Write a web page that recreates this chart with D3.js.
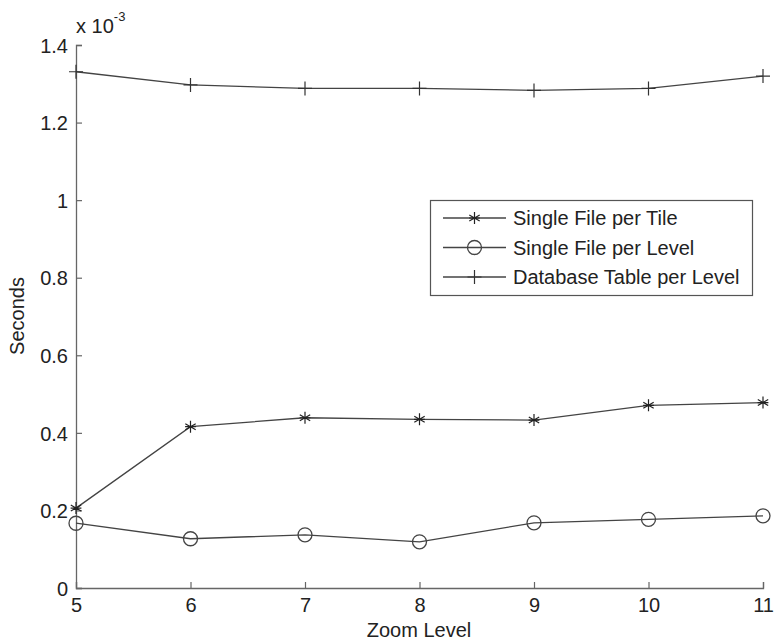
<!DOCTYPE html>
<html>
<head>
<meta charset="utf-8">
<script src="https://cdn.jsdelivr.net/npm/d3@7"></script>
<style>
  html, body { margin: 0; padding: 0; background: #fff; }
  svg text { font-family: "Liberation Sans", Arial, sans-serif; fill: #222; }
</style>
</head>
<body>
<svg id="chart" width="774" height="640"></svg>
<script>
const zoomLevels = [5, 6, 7, 8, 9, 10, 11];
const seriesNames = ["Single File per Tile", "Single File per Level", "Database Table per Level"];
const tilePerFile = [0.206, 0.416, 0.439, 0.435, 0.433, 0.471, 0.478];
const filePerLevel = [0.167, 0.127, 0.137, 0.119, 0.168, 0.177, 0.186];
const dbTablePerLevel = [1.331, 1.297, 1.288, 1.288, 1.283, 1.288, 1.320];
const yTicks = [0, 0.2, 0.4, 0.6, 0.8, 1, 1.2, 1.4];
const xTicks = [5, 6, 7, 8, 9, 10, 11];

const svg = d3.select("#chart");
const lineColor = "#444";
const axisColor = "#666";

const x = d3.scaleLinear().domain([5, 11]).range([76, 763]);
const y = d3.scaleLinear().domain([0, 1.4]).range([588, 45]);

// axes
const gx = svg.append("g").attr("transform", `translate(0,${y(0)})`)
  .call(d3.axisBottom(x).tickValues(xTicks).tickSize(-6).tickPadding(10).tickFormat(d3.format("d")));
const gy = svg.append("g").attr("transform", `translate(${x(5)},0)`)
  .call(d3.axisLeft(y).tickValues(yTicks).tickSize(-6).tickPadding(8).tickFormat(d => d === 0 ? "0" : d === 1 ? "1" : d3.format(".1f")(d)));
[gx, gy].forEach(g => {
  g.select(".domain").attr("stroke", axisColor).attr("stroke-width", 1.3);
  g.selectAll(".tick line").attr("stroke", axisColor).attr("stroke-width", 1.2);
  g.selectAll(".tick text").attr("font-size", 20).attr("fill", "#222")
    .style("font-family", '"Liberation Sans", Arial, sans-serif');
});
gx.selectAll(".tick text").attr("dy", "0.71em");
gy.selectAll(".tick text").attr("dy", "0.36em");

// exponent label
const expo = svg.append("text").attr("x", 76).attr("y", 33).attr("font-size", 20);
expo.append("tspan").text("x 10");
expo.append("tspan").attr("font-size", 13).attr("dy", -12).text("-3");

// axis titles
svg.append("text").attr("x", 419).attr("y", 637).attr("text-anchor", "middle")
  .attr("font-size", 20).text("Zoom Level");
svg.append("text").attr("transform", `translate(24,316) rotate(-90)`)
  .attr("text-anchor", "middle").attr("font-size", 20).text("Seconds");

// markers
function star(g, cx, cy) {
  const r = 6;
  const p = d3.path();
  for (let i = 0; i < 3; i++) {
    const a = Math.PI / 2 + i * Math.PI / 3;
    p.moveTo(cx + r * Math.cos(a), cy + r * Math.sin(a));
    p.lineTo(cx - r * Math.cos(a), cy - r * Math.sin(a));
  }
  p.moveTo(cx - r * 0.9, cy); p.lineTo(cx + r * 0.9, cy);
  g.append("path").attr("d", p.toString()).attr("stroke", "#222").attr("stroke-width", 1.2).attr("fill", "none");
}
function circ(g, cx, cy) {
  g.append("circle").attr("cx", cx).attr("cy", cy).attr("r", 7)
    .attr("fill", "none").attr("stroke", lineColor).attr("stroke-width", 1.3);
}
function plus(g, cx, cy) {
  const p = d3.path();
  p.moveTo(cx, cy - 7); p.lineTo(cx, cy + 7);
  p.moveTo(cx - 7, cy); p.lineTo(cx + 7, cy);
  g.append("path").attr("d", p.toString()).attr("stroke", "#333").attr("stroke-width", 1.2).attr("fill", "none");
}

const series = [
  { name: seriesNames[0], values: tilePerFile, marker: star },
  { name: seriesNames[1], values: filePerLevel, marker: circ },
  { name: seriesNames[2], values: dbTablePerLevel, marker: plus }
];

const line = d3.line().x((d, i) => x(zoomLevels[i])).y(d => y(d));
series.forEach(s => {
  const g = svg.append("g");
  g.append("path").attr("d", line(s.values)).attr("fill", "none")
    .attr("stroke", lineColor).attr("stroke-width", 1.3);
  s.values.forEach((v, i) => s.marker(g, x(zoomLevels[i]), y(v)));
});

// legend
const lg = svg.append("g");
lg.append("rect").attr("x", 430.5).attr("y", 200.5).attr("width", 322).attr("height", 95)
  .attr("fill", "#fff").attr("stroke", "#555").attr("stroke-width", 1.2);
series.forEach((s, i) => {
  const cy = 218 + i * 29.5;
  lg.append("line").attr("x1", 443).attr("x2", 506).attr("y1", cy).attr("y2", cy)
    .attr("stroke", lineColor).attr("stroke-width", 1.3);
  s.marker(lg, 474.5, cy);
  lg.append("text").attr("x", 513).attr("y", cy + 7).attr("font-size", 20).text(s.name);
});
</script>
</body>
</html>
